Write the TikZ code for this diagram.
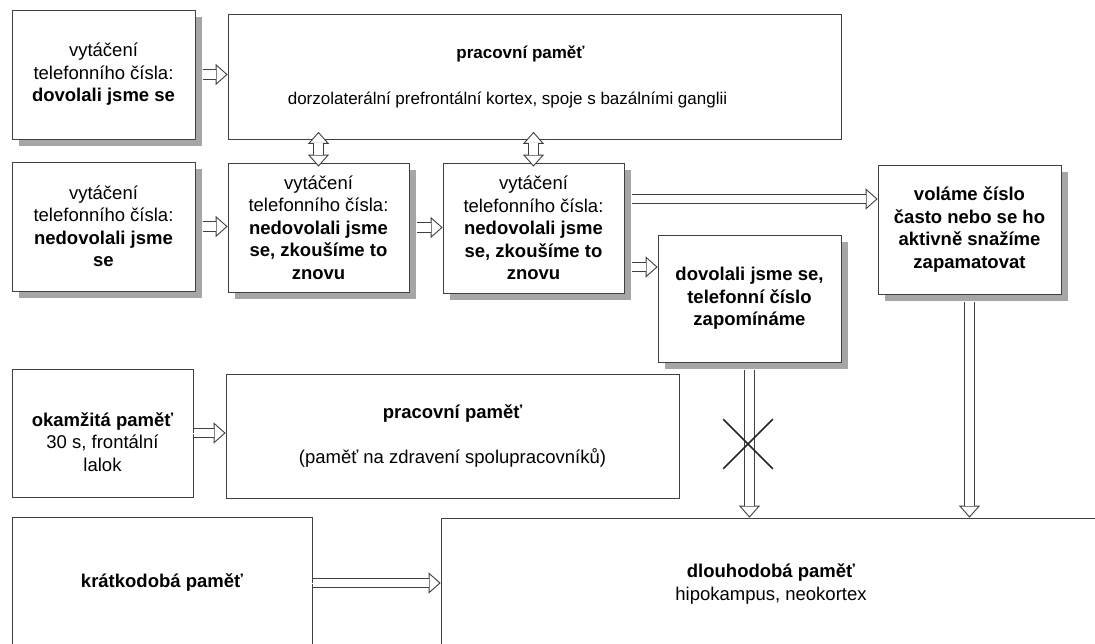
\documentclass[tikz,border=0pt]{standalone}
\usepackage{fontspec}
\setmainfont{Liberation Sans}
\usetikzlibrary{arrows.meta,shadows,shapes.misc}

\tikzset{
    >={Triangle[length=12pt,width=21pt,color=black!75,fill=white]},
    box/.style={draw=black!75,line width=0.7pt,fill=white,align=center,inner sep=3pt,
        font=\fontsize{18.5}{22.5}\selectfont},
    stin/.style={box,drop shadow={shadow xshift=7pt,shadow yshift=-7pt,fill=black!35,opacity=1}},
    fat/.style={postaction={draw=white,line width=0.9pt,->},
        postaction={draw=black!75,line width=0.9pt,double=white,double distance=8.4pt,
            shorten >=11.2pt,shorten <=0.5pt}},
    fatboth/.style={postaction={draw=white,line width=0.9pt,<->},
        postaction={draw=black!75,line width=0.9pt,double=white,double distance=8.4pt,
            shorten >=11.2pt,shorten <=11.2pt}}
}

\begin{document}
\begin{tikzpicture}[x=1pt,y=-1pt]
    \useasboundingbox (0,0) rectangle (1095,643);
    \clip (0,0) rectangle (1095,643);
    \fill[white] (0,0) rectangle (1095,643);

    %horni rada
    \node[stin,minimum width=183pt,minimum height=129pt] (dovolali) at (103.5,74.5)
        {vytáčení\\telefonního čísla:\\\textbf{dovolali jsme se}};
    \node[box,minimum width=613pt,minimum height=125pt,font=\fontsize{17}{22.5}\selectfont] (pracovni) at (534.5,77)
        {\textbf{pracovní paměť}\hspace*{28pt}\\[24pt]dorzolaterální prefrontální kortex, spoje s bazálními ganglii\hspace*{54pt}};

    %druha rada
    \node[stin,minimum width=183pt,minimum height=129pt] (nedovolali) at (103.5,226.5)
        {vytáčení\\telefonního čísla:\\\textbf{nedovolali jsme}\\\textbf{se}};
    \node[stin,minimum width=181pt,minimum height=129pt] (znovu1) at (318.5,227.5)
        {vytáčení\\telefonního čísla:\\\textbf{nedovolali jsme}\\\textbf{se, zkoušíme to}\\\textbf{znovu}};
    \node[stin,minimum width=181pt,minimum height=130pt] (znovu2) at (533.5,228)
        {vytáčení\\telefonního čísla:\\\textbf{nedovolali jsme}\\\textbf{se, zkoušíme to}\\\textbf{znovu}};
    \node[stin,minimum width=183pt,minimum height=127pt] (zapominame) at (749.5,298.5)
        {\textbf{dovolali jsme se,}\\\textbf{telefonní číslo}\\\textbf{zapomínáme}};
    \node[stin,minimum width=183pt,minimum height=129pt] (volame) at (969.5,229.5)
        {\textbf{voláme číslo}\\\textbf{často nebo se ho}\\\textbf{aktivně snažíme}\\\textbf{zapamatovat}};

    %treti rada
    \node[box,minimum width=181pt,minimum height=128pt] (okamzita) at (102.5,433)
        {\mbox{}\\[9pt]\textbf{okamžitá paměť}\\30 s, frontální\\lalok};
    \node[box,minimum width=453pt,minimum height=124pt] (pracovni2) at (452.5,436)
        {\textbf{pracovní paměť}\\[22pt](paměť na zdravení spolupracovníků)};

    %ctvrta rada
    \node[box,minimum width=300pt,minimum height=132pt] (kratkodoba) at (162,583)
        {\textbf{krátkodobá paměť}};
    \node[box,minimum width=660pt,minimum height=132pt] (dlouhodoba) at (771,584)
        {\textbf{dlouhodobá paměť}\\hipokampus, neokortex};

    %sipky
    \path[fat] ([xshift=7pt]dovolali.east) -- (dovolali.east -| pracovni.west);
    \path[fat] ([xshift=7pt]nedovolali.east) -- (nedovolali.east -| znovu1.west);
    \path[fat] ([xshift=7pt]znovu1.east) -- (znovu1.east -| znovu2.west);
    \path[fat] ([xshift=7pt,yshift=29pt]znovu2.east) -- ([yshift=29pt]znovu2.east -| volame.west);
    \path[fat] ([xshift=7pt,yshift=-39pt]znovu2.east) -- ([yshift=-39pt]znovu2.east -| zapominame.west);
    \path[fatboth] ([yshift=-4pt]znovu1.north) -- ([yshift=8pt]znovu1.north |- pracovni.south);
    \path[fatboth] ([yshift=-4pt]znovu2.north) -- ([yshift=8pt]znovu2.north |- pracovni.south);
    \path[fat] ([yshift=-7pt]zapominame.south) -- (zapominame.south |- dlouhodoba.north);
    \path[fat] ([yshift=-7pt]volame.south) -- (volame.south |- dlouhodoba.north);
    \path[fat] (okamzita.east) -- (okamzita.east -| pracovni2.west);
    \path[fat] (kratkodoba.east) -- (kratkodoba.east -| dlouhodoba.west);

    %krizek
    \node[draw=black!85,line width=1.5pt,cross out,minimum size=48pt,inner sep=0pt] (zakaz) at (748,444) {};

\end{tikzpicture}
\end{document}
